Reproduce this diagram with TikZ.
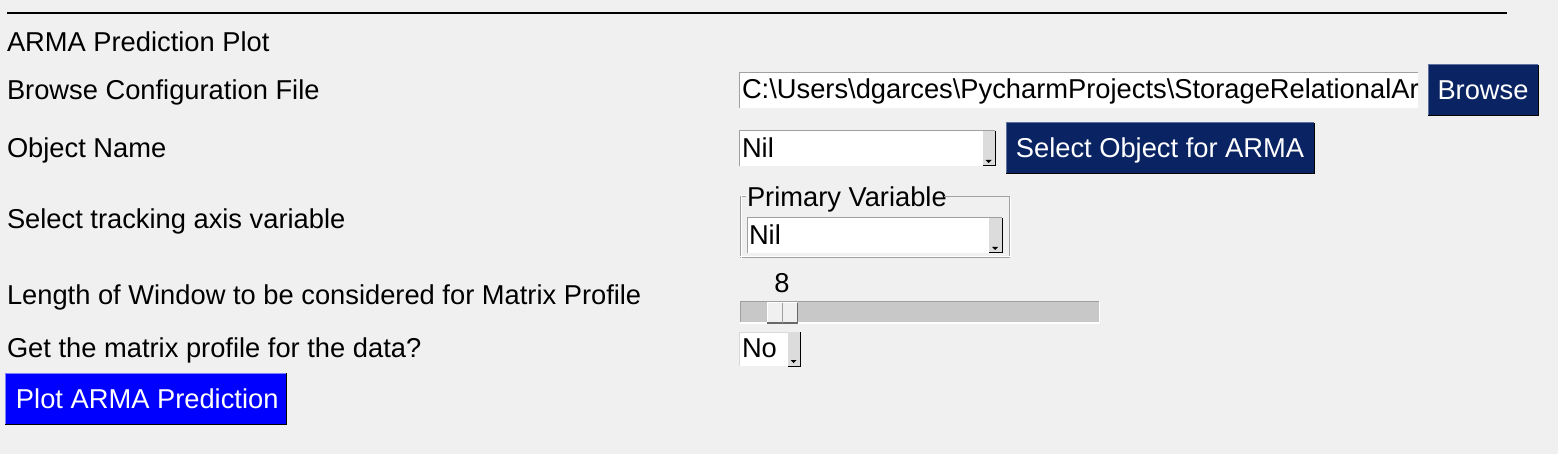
\documentclass[tikz,border=0pt]{standalone}
\usepackage{fontspec}
\setmainfont{Liberation Sans}
\definecolor{bg}{HTML}{F0F0F0}
\definecolor{navybtn}{HTML}{0A2463}
\definecolor{navyedge}{HTML}{5C6F9E}
\definecolor{blueedge}{HTML}{8080FF}
\definecolor{edgegray}{HTML}{A0A0A0}
\definecolor{darkedge}{HTML}{696969}
\definecolor{scrollgray}{HTML}{DCDCDC}
\definecolor{troughgray}{HTML}{C8C8C8}
\begin{document}
\begin{tikzpicture}[x=1pt,y=-1pt,
  every node/.style={inner sep=0pt,outer sep=0pt},
  txt/.style={font=\fontsize{27.3}{32}\selectfont,text=black,anchor=base west},
  btntxt/.style={font=\fontsize{27.3}{32}\selectfont,text=white,anchor=base},
  box/.style={anchor=north west,rectangle},
  sunken/.style={line width=1pt,draw=edgegray},
  dark/.style={line width=1pt,draw=black},
  arrowtip/.style={fill=black,draw=none}]
\useasboundingbox (0,0) rectangle (1558,454);
\fill[bg] (0,0) rectangle (1558,454);
% top rule
\coordinate (r1) at (7,13);
\coordinate (r2) at (1507,13);
\draw[line width=2pt] (r1) -- (r2);
% labels
\node[txt] (title)   at (7,52)  {ARMA Prediction Plot};
\node[txt] (lblfile) at (7,100) {Browse Configuration File};
\node[txt] (lblobj)  at (7,158) {Object Name};
\node[txt] (lbltrk)  at (7,229) {Select tracking axis variable};
\node[txt] (lblwin)  at (7,305) {Length of Window to be considered for Matrix Profile};
\node[txt] (lblmp)   at (7,357) {Get the matrix profile for the data?};
% entry
\node[box,fill=white,minimum width=679pt,minimum height=35pt] (entry) at (739,73) {};
\draw[sunken] (entry.south west) -- (entry.north west) -- (entry.north east);
\node[txt] (path) at (742,99) {C:\textbackslash Users\textbackslash dgarces\textbackslash PycharmProjects\textbackslash StorageRelationalAr};
% Browse button
\node[box,fill=navybtn,minimum width=110pt,minimum height=51pt] (browse) at (1428,65) {};
\draw[line width=1pt,navyedge] (browse.south west) -- (browse.north west) -- (browse.north east);
\draw[dark] (browse.north east) -- (browse.south east) -- (browse.south west);
\node[btntxt] (browsetxt) at (1483,100) {Browse};
% object combo
\node[box,fill=white,minimum width=256pt,minimum height=35pt] (objcombo) at (739,131) {};
\draw[sunken] (objcombo.south west) -- (objcombo.north west) -- (objcombo.north east);
\node[box,fill=scrollgray,minimum width=12pt,minimum height=35pt] (objscroll) at (983,131) {};
\draw[dark] (objscroll.north east) -- (objscroll.south east) -- (objscroll.south west);
\fill[arrowtip] ([xshift=-3.5pt,yshift=6pt]objscroll.south) -- ([xshift=2.5pt,yshift=6pt]objscroll.south) -- ([xshift=-0.5pt,yshift=3pt]objscroll.south) -- cycle;
\node[txt] (objnil) at (742,158) {Nil};
% Select object button
\node[box,fill=navybtn,minimum width=308pt,minimum height=51pt] (objbtn) at (1006,123) {};
\draw[line width=1pt,navyedge] (objbtn.south west) -- (objbtn.north west) -- (objbtn.north east);
\draw[dark] (objbtn.north east) -- (objbtn.south east) -- (objbtn.south west);
\node[btntxt] (objbtntxt) at (1160,158) {Select Object for ARMA};
% labelframe
\node[box,minimum width=269pt,minimum height=61pt] (frame) at (740,197) {};
\node[txt] (frametxt) at (747,207) {Primary Variable};
\coordinate (fa) at (746,197);
\coordinate (fb) at (944,197);
\draw[line width=1pt,edgegray] (fa) -- (frame.north west) -- (frame.south west) -- (frame.south east) -- (frame.north east) -- (fb);
\draw[line width=1pt,white] ([xshift=1pt,yshift=1pt]fa) -- ([xshift=1pt,yshift=1pt]frame.north west) -- ([xshift=1pt,yshift=-1pt]frame.south west);
\draw[line width=1pt,white] ([yshift=1pt]frame.south west) -- ([xshift=1pt,yshift=1pt]frame.south east) -- ([xshift=1pt]frame.north east);
% variable combo
\node[box,fill=white,minimum width=255pt,minimum height=35pt] (varcombo) at (747,218) {};
\draw[sunken] (varcombo.south west) -- (varcombo.north west) -- (varcombo.north east);
\node[box,fill=scrollgray,minimum width=13pt,minimum height=35pt] (varscroll) at (989,218) {};
\draw[dark] (varscroll.north east) -- (varscroll.south east) -- (varscroll.south west);
\fill[arrowtip] ([xshift=-3.5pt,yshift=6pt]varscroll.south) -- ([xshift=2.5pt,yshift=6pt]varscroll.south) -- ([xshift=-0.5pt,yshift=3pt]varscroll.south) -- cycle;
\node[txt] (varnil) at (749,245) {Nil};
% slider
\node[btntxt,text=black] (val) at (782,293) {8};
\node[box,fill=troughgray,minimum width=359pt,minimum height=21pt] (trough) at (740,302) {};
\draw[sunken] (trough.south west) -- (trough.north west) -- (trough.north east);
\draw[line width=1pt,white] (trough.north east) -- (trough.south east) -- (trough.south west);
\node[box,fill=bg,minimum width=30pt,minimum height=20pt] (handle) at (767,303) {};
\draw[line width=1pt,white] (handle.south west) -- (handle.north west) -- (handle.north east);
\draw[line width=1pt,darkedge] (handle.north east) -- (handle.south east) -- (handle.south west);
\draw[line width=1pt,edgegray] (handle.north) -- (handle.south);
% No combo
\node[box,fill=white,minimum width=61pt,minimum height=34pt] (nocombo) at (739,332) {};
\draw[line width=1pt,white!85!black] (nocombo.south west) -- (nocombo.north west) -- (nocombo.north east);
\node[box,fill=scrollgray,minimum width=12pt,minimum height=34pt] (noscroll) at (788,332) {};
\draw[dark] (noscroll.north east) -- (noscroll.south east) -- (noscroll.south west);
\fill[arrowtip] ([xshift=-3.5pt,yshift=6pt]noscroll.south) -- ([xshift=2.5pt,yshift=6pt]noscroll.south) -- ([xshift=-0.5pt,yshift=3pt]noscroll.south) -- cycle;
\node[txt] (notxt) at (742,357) {No};
% Plot button
\node[box,fill=blue,minimum width=281pt,minimum height=51pt] (plotbtn) at (5,373) {};
\draw[line width=1pt,blueedge] (plotbtn.south west) -- (plotbtn.north west) -- (plotbtn.north east);
\draw[dark] (plotbtn.north east) -- (plotbtn.south east) -- (plotbtn.south west);
\node[btntxt,anchor=base west] (plottxt) at (16,408) {Plot ARMA Prediction};
\end{tikzpicture}
\end{document}
